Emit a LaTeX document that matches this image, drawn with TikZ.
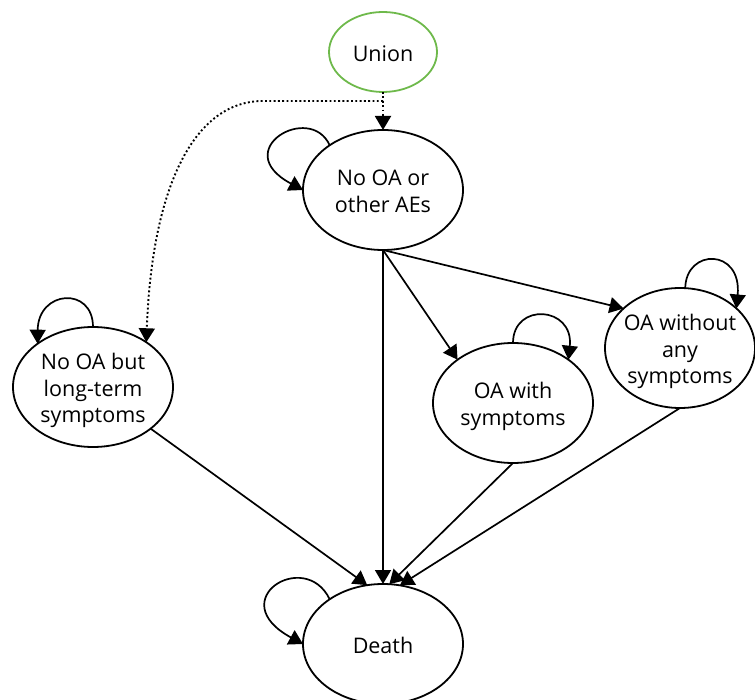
\documentclass[tikz,border=0pt]{standalone}
\usepackage{fontspec}
\setmainfont{Open Sans}
\usetikzlibrary{shapes.geometric,arrows.meta}
\definecolor{uniongreen}{RGB}{110,185,75}
\newcommand\zwtext[1]{\makebox[0pt]{\smash{\raisebox{-9pt}{\begin{tabular}{@{}c@{}}#1\end{tabular}}}}}
\begin{document}
\begin{tikzpicture}[x=1pt,y=-1pt,
  every node/.style={font=\fontsize{21.5}{26.5}\selectfont},
  st/.style={ellipse,draw=black,line width=1.8pt,inner sep=0pt,outer sep=0pt,minimum width=160pt,minimum height=120pt},
  edge/.style={line width=1.7pt,-{Triangle[length=14pt,width=16pt]}},
  dotedge/.style={line width=1.9pt,dash pattern=on 1.9pt off 2.4pt}
]
\useasboundingbox (0,0) rectangle (755,700);
\node[st,draw=uniongreen,minimum width=108pt,minimum height=80pt] (union) at (383,52) {\zwtext{Union}};
\node[st] (noae) at (383,190) {\zwtext{No OA or\\other AEs}};
\node[st] (lt) at (93,387) {\zwtext{No OA but\\long-term\\symptoms}};
\node[st] (with) at (513,403) {\zwtext{OA with\\symptoms}};
\node[st,minimum width=150pt] (without) at (680,348) {\zwtext{OA without\\any\\symptoms}};
\node[st] (death) at (383,644) {\zwtext{Death}};

% Union dotted connections
\coordinate (j) at (383,101);
\coordinate (k) at (263,101);
\draw[dotedge] (union.south) -- (j);
\draw[dotedge,-{Triangle[length=14pt,width=16pt]}] (j) -- (noae.north);
\draw[dotedge,-{Triangle[length=14pt,width=16pt]}] (j) -- (k) .. controls (195,101) and (152,185) .. (lt.40);

% self loops
\draw[edge] (noae.140) .. controls (310,102) and (228,150) .. (noae.west);
\draw[edge] (death.140) .. controls (305,548) and (222,600) .. (death.west);
\draw[edge] (lt.north) .. controls (93,286) and (38,290) .. (lt.142);
\draw[edge] (with.north) .. controls (513,302) and (574,306) .. (with.38);
\draw[edge] (without.85) .. controls (686,248) and (742,248) .. (without.35);

% transitions
\draw[edge] (noae.south) -- (with.142);
\draw[edge] (noae.south) -- (without.145);
\draw[edge] (noae.south) -- (death.north);
\draw[edge] (lt) -- (death.105);
\draw[edge] (with.south) -- (death.84);
\draw[edge] (without.south) -- (death.74);
\end{tikzpicture}
\end{document}
